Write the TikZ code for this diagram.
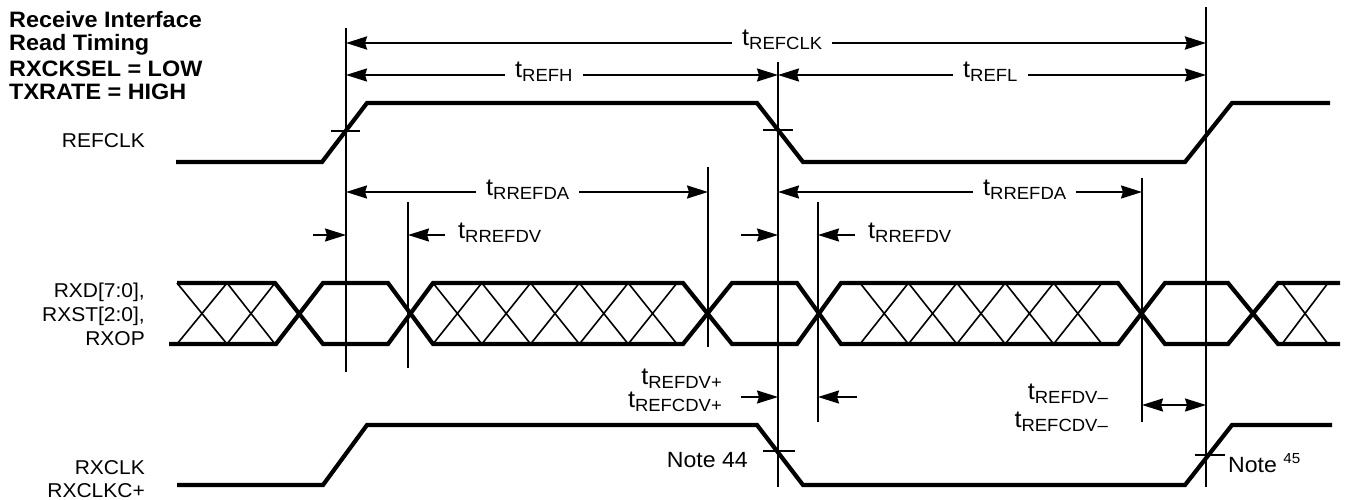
\documentclass[tikz,border=0pt]{standalone}
\usepackage{fontspec}
\setmainfont{Liberation Sans}[FakeStretch=1.05]
\usetikzlibrary{arrows.meta}
\newcommand\tsym[1]{{\fontsize{24}{24}\selectfont t}\raisebox{-4pt}{\fontsize{17.6}{18}\selectfont #1}}
\begin{document}
\begin{tikzpicture}[x=1pt,y=-1pt,
  wave/.style={line width=4.2pt, line join=miter},
  hatchline/.style={line width=1.6pt},
  vline/.style={line width=2pt},
  dimline/.style={line width=2pt},
  dimthick/.style={line width=2.6pt},
  tip/.style={-{Stealth[length=21pt,width=13pt,inset=2pt]}},
  dtip/.style={{Stealth[length=21pt,width=13pt,inset=2pt]}-{Stealth[length=21pt,width=13pt,inset=2pt]}},
  lbl/.style={font=\fontsize{20}{22}\selectfont, inner sep=0pt},
  ttl/.style={font=\bfseries\fontsize{22.3}{24}\selectfont, inner sep=0pt},
  tlab/.style={inner xsep=10pt, inner ysep=0pt},
  tx/.style={inner sep=0pt},
  note/.style={font=\fontsize{22}{24}\selectfont, inner sep=0pt}
]
\useasboundingbox (0,0) rectangle (1346,500);

% title
\node[ttl, anchor=base west] (ttl1) at (9,28) {Receive Interface};
\node[ttl, anchor=base west] (ttl2) at (9,51) {Read Timing};
\node[ttl, anchor=base west] (ttl3) at (9,77) {RXCKSEL = LOW};
\node[ttl, anchor=base west] (ttl4) at (9,100) {TXRATE = HIGH};

% signal labels
\node[lbl, anchor=base east] (lREF) at (145,147) {REFCLK};
\node[lbl, anchor=base east] (lRXD1) at (145,297) {RXD[7:0],};
\node[lbl, anchor=base east] (lRXD2) at (145,321) {RXST[2:0],};
\node[lbl, anchor=base east] (lRXD3) at (145,345) {RXOP};
\node[lbl, anchor=base east] (lCLK1) at (145,474) {RXCLK};
\node[lbl, anchor=base east] (lCLK2) at (145,497) {RXCLKC+};

% REFCLK waveform
\draw[wave] (176,162) -- (322,162) -- (367,103) -- (757,103) -- (803,162) -- (1185,162) -- (1232,103) -- (1330,103);
\draw[vline] (331,131) -- (360,131);
\draw[vline] (763,130) -- (793,130);

% RXCLK waveform
\draw[wave] (177,485) -- (323,485) -- (367,425) -- (757,425) -- (803,485) -- (1185,485) -- (1232,425) -- (1332,425);
\draw[vline] (763,451) -- (795,451);
\draw[vline] (1195,455) -- (1225,455);

% data bus
\draw[wave] (177,283) -- (275,283) -- (323,344) -- (388,344) -- (433,283) -- (683,283) -- (732,344) -- (797,344) -- (841,283) -- (1118,283) -- (1165,344) -- (1228,344) -- (1278,283) -- (1340,283);
\draw[wave] (169,344) -- (276,344) -- (323,283) -- (388,283) -- (433,344) -- (683,344) -- (732,283) -- (797,283) -- (841,344) -- (1118,344) -- (1165,283) -- (1228,283) -- (1278,344) -- (1340,344);
\foreach \a/\b in {177/227,227/275,1282/1328} {
  \draw[hatchline] (\a,283) -- (\b,344) (\b,283) -- (\a,344);
}
\foreach \i in {0,...,4} {
  \pgfmathsetmacro\xa{433+48.8*\i}
  \pgfmathsetmacro\xb{433+48.8*(\i+1)}
  \draw[hatchline] (\xa,283) -- (\xb,344) (\xb,283) -- (\xa,344);
  \pgfmathsetmacro\xc{860+48.4*\i}
  \pgfmathsetmacro\xd{860+48.4*(\i+1)}
  \draw[hatchline] (\xc,283) -- (\xd,344) (\xd,283) -- (\xc,344);
}

% vertical reference lines
\coordinate (v1t) at (346,28);  \coordinate (v1b) at (346,372);
\coordinate (v2t) at (408,202); \coordinate (v2b) at (408,368);
\coordinate (v3t) at (778,62);  \coordinate (v3b) at (778,487);
\coordinate (v4t) at (708,167); \coordinate (v4b) at (708,347);
\coordinate (v5t) at (818,202); \coordinate (v5b) at (818,422);
\coordinate (v6t) at (1142,178); \coordinate (v6b) at (1142,422);
\coordinate (v7t) at (1206,7);  \coordinate (v7b) at (1206,487);
\foreach \v in {v1,v2,v3,v4,v5,v6,v7} { \draw[vline] (\v t) -- (\v b); }

% dimension levels
\coordinate (yA) at (0,43);
\coordinate (yB) at (0,75);
\coordinate (yC) at (0,192);
\coordinate (yD) at (0,235);
\coordinate (yE) at (0,397);
\coordinate (yF) at (0,405);

% tREFCLK
\node[tlab, anchor=base west] (nREFCLK) at (732,46) {\tsym{REFCLK}};
\draw[dimthick,tip] (nREFCLK.west |- yA) -- (v1t |- yA);
\draw[dimthick,tip] (nREFCLK.east |- yA) -- (v7t |- yA);

% tREFH, tREFL
\node[tlab, anchor=base west] (nREFH) at (505,78) {\tsym{REFH}};
\draw[dimline,tip] (nREFH.west |- yB) -- (v1t |- yB);
\draw[dimline,tip] (nREFH.east |- yB) -- (v3t |- yB);
\node[tlab, anchor=base west] (nREFL) at (953,78) {\tsym{REFL}};
\draw[dimline,tip] (nREFL.west |- yB) -- (v3t |- yB);
\draw[dimline,tip] (nREFL.east |- yB) -- (v7t |- yB);

% tRREFDA
\node[tlab, anchor=base west] (nDA1) at (476,195) {\tsym{RREFDA}};
\draw[dimline,tip] (nDA1.west |- yC) -- (v1t |- yC);
\draw[dimline,tip] (nDA1.east |- yC) -- (v4t |- yC);
\node[tlab, anchor=base west] (nDA2) at (973,195) {\tsym{RREFDA}};
\draw[dimline,tip] (nDA2.west |- yC) -- (v3t |- yC);
\draw[dimline,tip] (nDA2.east |- yC) -- (v6t |- yC);

% tRREFDV
\node[tx, anchor=base west] (nDV1) at (458,238) {\tsym{RREFDV}};
\node[tx, anchor=base west] (nDV2) at (868,238) {\tsym{RREFDV}};
\coordinate (d1) at (313,235);
\coordinate (d2) at (445,235);
\coordinate (d3) at (741,235);
\coordinate (d4) at (855,235);
\draw[dimline,tip] (d1) -- (v1t |- yD);
\draw[dimline,tip] (d2) -- (v2t |- yD);
\draw[dimline,tip] (d3) -- (v3t |- yD);
\draw[dimline,tip] (d4) -- (v5t |- yD);

% tREFDV+ / tREFCDV+
\node[tx, anchor=base east] (nDVp1) at (722,384) {\tsym{REFDV+}};
\node[tx, anchor=base east] (nDVp2) at (722,407) {\tsym{REFCDV+}};
\coordinate (e1) at (741,397);
\coordinate (e2) at (857,397);
\draw[dimline,tip] (e1) -- (v3t |- yE);
\draw[dimline,tip] (e2) -- (v5t |- yE);

% tREFDV- / tREFCDV-
\node[tx, anchor=base east] (nDVm1) at (1108,399) {\tsym{REFDV–}};
\node[tx, anchor=base east] (nDVm2) at (1108,427) {\tsym{REFCDV–}};
\draw[dimline,dtip] (v6t |- yF) -- (v7t |- yF);

% notes
\node[note, anchor=base east] (n44) at (748,467) {Note 44};
\node[note, anchor=base west] (n45) at (1228,472) {Note \raisebox{9pt}{\fontsize{14.5}{15}\selectfont 45}};
\end{tikzpicture}
\end{document}
